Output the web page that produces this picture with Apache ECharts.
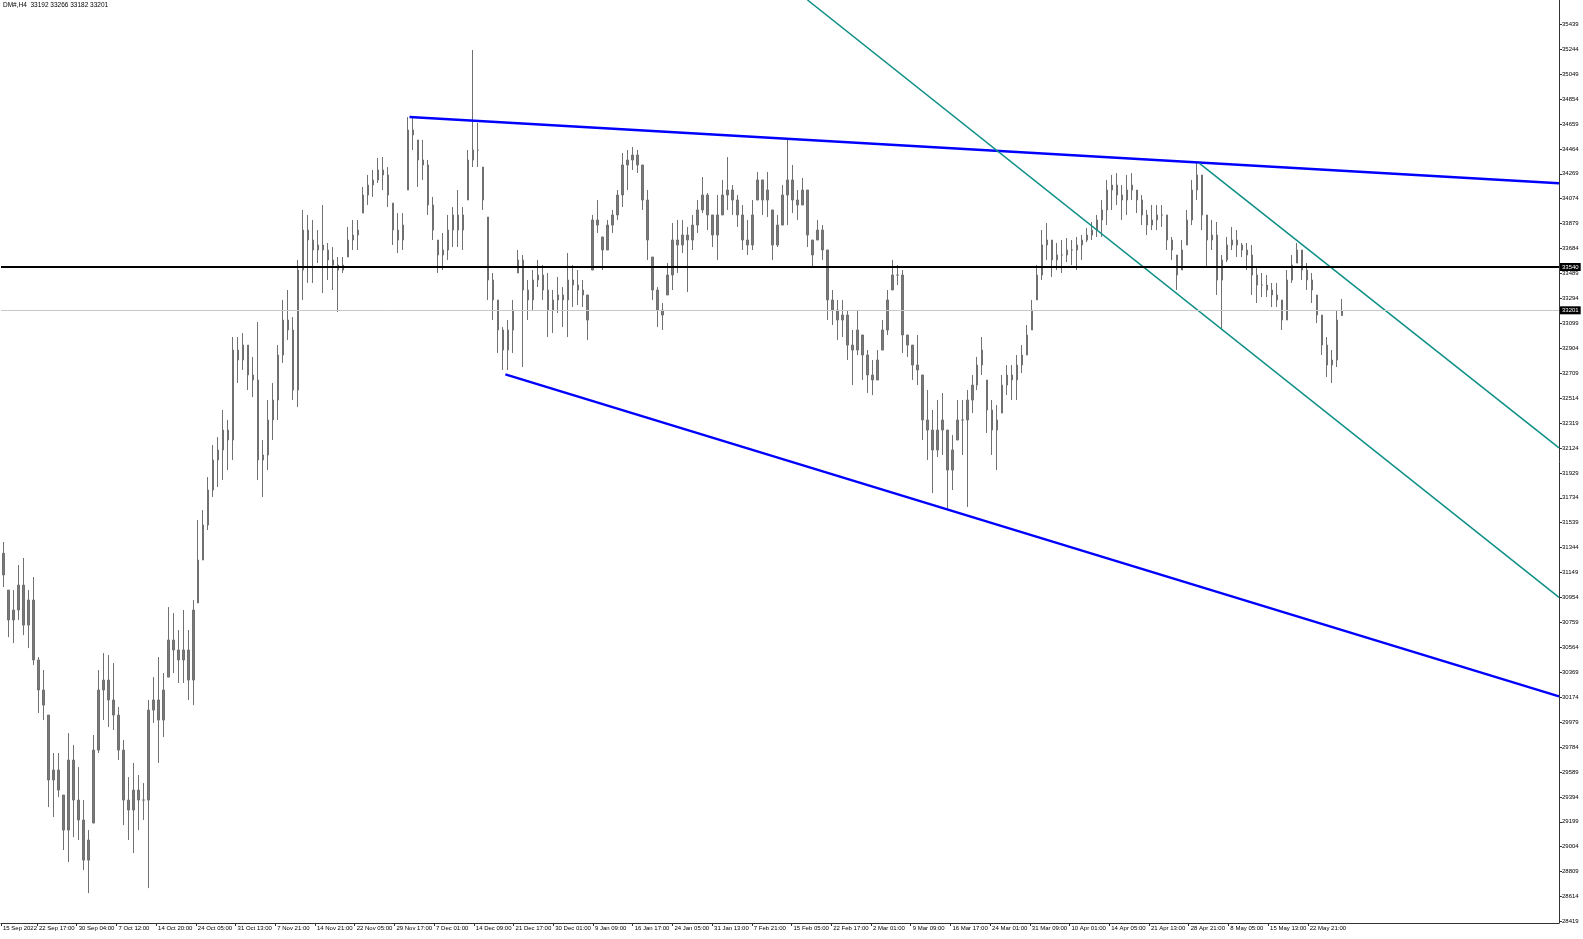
<!DOCTYPE html>
<html><head><meta charset="utf-8">
<script src="https://cdn.jsdelivr.net/npm/echarts@6/dist/echarts.min.js"></script>
<style>html,body{margin:0;padding:0;background:#fff}#c{width:1583px;height:939px}</style>
</head><body><div id="c"></div>
<script>
const titleText = 'DM#,H4  33192 33266 33182 33201';
const highs = [
31388,31012,31012,31208,31263,31012,31114,30488,30386,30034,
29737,29737,29408,29893,29799,29627,29369,29134,29878,30386,
30519,30504,30441,30097,29839,29549,29659,29565,29502,30152,
30331,30488,30363,30879,30832,30699,30856,30699,30934,31560,
31638,31896,32147,32209,32421,32343,32992,32992,33023,32929,
32836,33109,32186,32499,32632,32929,33282,33360,33148,33595,
33986,33947,33908,33829,34025,33728,33696,33618,33618,33853,
33908,33908,34166,34260,34299,34393,34400,34322,34040,33962,
33962,34713,34713,34534,34534,34377,34088,33751,33806,33947,
34009,34142,34009,34455,35238,34667,34322,33931,33493,33282,
33070,33125,33282,33673,33634,33438,33516,33595,33555,33493,
33360,33462,33383,33649,33555,33516,33438,33321,33947,34064,
33775,33908,33986,34142,34432,34455,34479,34455,34338,34142,
33618,33383,33258,33571,33884,33908,33908,33853,33947,34064,
34244,34119,33947,34103,34221,34400,34181,34103,34025,33908,
34064,34283,34221,34283,33986,33947,34181,34549,34338,34142,
34236,34142,33751,33908,33868,33673,33360,33282,33282,33203,
33047,33203,33008,32890,32812,32890,33125,33360,33595,33555,
33516,33008,32929,33008,32695,32577,32421,32499,32554,32264,
32225,32499,32499,32577,32695,32836,32992,32656,32499,32460,
32695,32773,32773,32851,32929,33086,33282,33555,33829,33884,
33751,33728,33751,33767,33751,33775,33790,33845,33892,33947,
34064,34221,34260,34275,34181,34260,34275,34142,34103,33986,
34025,34025,34025,33947,33775,33634,33751,33986,34221,34353,
34260,33947,33908,33892,33634,33775,33853,33829,33728,33728,
33712,33540,33493,33477,33415,33415,33282,33516,33634,33728,
33673,33571,33493,33321,33164,32992,32890,33203,33290];
const lows = [
31036,30644,30597,30778,30660,30558,30425,30050,29995,29314,
29236,29392,28978,28884,29079,29056,28821,28641,29189,29737,
29995,29940,29917,29682,29173,29056,28954,29134,29213,28680,
29972,29659,29862,30331,30363,30285,30285,30152,30112,30911,
31247,31482,31740,31818,31873,31951,32030,32632,32734,32577,
32522,31873,31740,31951,32186,32343,32789,32969,32499,32444,
33282,33415,33415,33571,33336,33438,33360,33188,33493,33618,
33673,33673,33962,34025,34088,34197,34142,34009,33712,33649,
33673,34142,34455,34166,34221,33947,33751,33493,33516,33595,
33696,33696,33673,34064,34322,34322,33986,33282,33125,32867,
32734,32734,32867,33493,32757,33125,33203,33383,33282,32992,
33023,33180,33070,32992,33227,33242,33227,32969,33516,33806,
33516,33673,33806,33908,34009,34142,34299,34275,33986,33595,
33282,33070,33047,33321,33360,33493,33649,33344,33673,33806,
33962,33829,33696,33595,33947,33986,33947,33853,33673,33634,
33673,34064,33947,33931,33595,33696,33868,33868,33962,33908,
34025,33696,33540,33751,33595,33125,33086,32969,32992,32812,
32616,32851,32656,32554,32538,32656,32890,33008,33360,33399,
32867,32836,32656,32616,32186,32030,31771,32053,32069,31638,
31795,32186,32069,31662,32397,32577,32695,32241,32069,31951,
32397,32538,32499,32499,32710,32851,33047,33282,33438,33595,
33462,33516,33493,33579,33555,33516,33595,33735,33751,33775,
33775,33868,33986,34025,33908,33947,34064,33962,33868,33790,
33829,33829,33853,33673,33595,33360,33516,33712,33868,34064,
33829,33540,33673,33321,33047,33579,33673,33618,33618,33516,
33321,33258,33305,33305,33227,33227,33047,33125,33415,33571,
33438,33360,33258,33101,32851,32679,32632,32757,33160];
const closes = [
31130,30778,30856,31051,30738,30934,30465,30230,30112,29526,
29604,29447,29134,29682,29369,29213,28899,29056,29760,30230,
30308,30152,30034,29760,29369,29291,29447,29369,29369,30073,
30152,29995,30230,30621,30543,30465,30543,30308,30856,31247,
31521,31795,32030,32108,32264,32186,32890,32812,32929,32695,
32656,32030,32069,32343,32499,32851,33125,33047,32577,33516,
33829,33751,33673,33712,33673,33595,33555,33516,33555,33751,
33790,33829,34103,34181,34221,34299,34260,34103,33829,33751,
33868,34612,34573,34377,34338,34025,33829,33634,33673,33829,
33947,33829,33947,34377,34455,34455,34064,33438,33282,33047,
32890,33047,33203,33595,33360,33282,33438,33477,33360,33203,
33282,33321,33282,33438,33399,33360,33321,33125,33908,33868,
33673,33868,33947,34103,34338,34377,34416,34338,34064,33751,
33360,33203,33164,33477,33751,33712,33790,33751,33868,33986,
34103,33947,33790,33947,34103,34142,34064,33947,33751,33712,
33947,34221,34064,34142,33712,33868,34103,34221,34064,34025,
34142,33790,33634,33829,33673,33282,33203,33125,33164,32929,
32890,33047,32851,32695,32656,32812,33047,33282,33477,33477,
33008,32929,32773,32734,32343,32264,32108,32264,32343,31951,
32108,32343,32343,32499,32616,32773,32890,32421,32264,32343,
32616,32695,32656,32773,32851,33008,33203,33477,33712,33751,
33595,33634,33634,33673,33673,33712,33751,33790,33829,33908,
33986,34142,34181,34103,34064,34142,34181,34064,33947,33868,
33908,33947,33947,33751,33673,33477,33673,33908,34142,34260,
33947,33751,33790,33438,33595,33712,33751,33712,33673,33634,
33477,33399,33399,33360,33321,33282,33125,33438,33555,33673,
33516,33438,33360,33164,32929,32773,32812,33125,33201];
const firstOpen = 31300;

const yTicks = [28419,28614,28809,29004,29199,29394,29589,29784,29979,30174,30369,30564,30759,30954,31149,31344,31539,31734,31929,32124,32319,32514,32709,32904,33099,33294,33489,33684,33879,34074,34269,34464,34659,34854,35049,35244,35439];
const xTickLabels = ["15 Sep 2022","22 Sep 17:00","30 Sep 04:00","7 Oct 12:00","14 Oct 20:00","24 Oct 05:00","31 Oct 13:00","7 Nov 21:00","14 Nov 21:00","22 Nov 05:00","29 Nov 17:00","7 Dec 01:00","14 Dec 09:00","21 Dec 17:00","30 Dec 01:00","9 Jan 09:00","16 Jan 17:00","24 Jan 05:00","31 Jan 13:00","7 Feb 21:00","15 Feb 05:00","22 Feb 17:00","2 Mar 01:00","9 Mar 09:00","16 Mar 17:00","24 Mar 01:00","31 Mar 09:00","10 Apr 01:00","14 Apr 05:00","21 Apr 13:00","28 Apr 21:00","8 May 05:00","15 May 13:00","22 May 21:00"];
const xTickIdx = [-0.5,6.70,14.66,22.61,30.56,38.52,46.47,54.42,62.37,70.33,78.28,86.23,94.19,102.14,110.09,118.04,126.0,133.95,141.90,149.86,157.81,165.76,173.71,181.67,189.62,197.57,205.53,213.48,221.43,229.38,237.34,245.29,253.24,261.19];

const upperBlue = [[81.3, 34713], [311.5, 34195]];
const lowerBlue = [[100.5, 32700], [311.5, 30180]];
const tealA = [[161.0, 35629], [311.5, 30955]];
const tealB = [[239.5, 34351], [311.5, 32124]];
const levelPrice = 33540;
const bidPrice = 33201;
const slotCount = 312;
const yMin = 28407, yMax = 35629;

const slots = Array.from({length: slotCount}, (_, i) => i);
const ohlc = closes.map((c, i) => {
  const prev = i === 0 ? firstOpen : closes[i - 1];
  const o = Math.min(Math.max(prev, lows[i]), highs[i]);
  return [o, c, lows[i], highs[i]];
});

const FONT = 'Liberation Sans';
const chart = echarts.init(document.getElementById('c'), null, {renderer: 'canvas'});
function tagLabel(v) {
  return {show: true, position: 'end', formatter: String(v), backgroundColor: '#000', color: '#fff',
    fontSize: 6, fontFamily: FONT, padding: [1, 2, 1, 2], distance: 1};
}
const option = {
  animation: false,
  backgroundColor: '#fff',
  graphic: [{type: 'text', left: 3, top: 2, style: {text: titleText, fontSize: 6.5, fontFamily: FONT, fill: '#000'}}],
  grid: {left: 0, right: 24, top: 0, bottom: 16, containLabel: false},
  xAxis: [
    {type: 'category', data: slots, show: false, boundaryGap: true},
    {type: 'value', min: -0.5, max: slotCount - 0.5, position: 'bottom',
     axisLine: {show: true, onZero: false, lineStyle: {color: '#333', width: 1}},
     splitLine: {show: false},
     axisTick: {show: true, customValues: xTickIdx, length: 3, lineStyle: {color: '#333'}},
     axisLabel: {show: true, customValues: xTickIdx, align: 'left', fontSize: 6, fontFamily: FONT, color: '#000', margin: 2, padding: [0, 0, 0, 2],
       formatter: function (v) {
         let b = 0, d = Infinity;
         xTickIdx.forEach((t, i) => { const dd = Math.abs(t - v); if (dd < d) { d = dd; b = i; } });
         return xTickLabels[b];
       }}}
  ],
  yAxis: {type: 'value', position: 'right', min: yMin, max: yMax, scale: true,
    axisLine: {show: true, onZero: false, lineStyle: {color: '#333', width: 1}},
    splitLine: {show: false},
    axisTick: {show: true, customValues: yTicks, length: 3, lineStyle: {color: '#333'}},
    axisLabel: {show: true, customValues: yTicks, fontSize: 6, fontFamily: FONT, color: '#000', margin: 3,
      formatter: function (v) { return String(Math.round(v)); }}},
  series: [
    {type: 'candlestick', xAxisIndex: 0, yAxisIndex: 0, data: ohlc, barWidth: 2,
     itemStyle: {color: '#7a7a7a', color0: '#7a7a7a', borderColor: '#707070', borderColor0: '#707070', borderWidth: 1}},
    {type: 'line', xAxisIndex: 1, data: [], symbol: 'none', silent: true,
     markLine: {symbol: ['none', 'none'], silent: true, animation: false,
       data: [
         {yAxis: bidPrice, lineStyle: {color: '#c8c8c8', width: 1, type: 'solid'}, label: tagLabel(bidPrice)},
         {yAxis: levelPrice, lineStyle: {color: '#000', width: 2, type: 'solid'}, label: tagLabel(levelPrice)}
       ]}},
    {type: 'line', xAxisIndex: 1, data: upperBlue, symbol: 'none', lineStyle: {color: '#0000ff', width: 2.5}},
    {type: 'line', xAxisIndex: 1, data: lowerBlue, symbol: 'none', lineStyle: {color: '#0000ff', width: 2.5}},
    {type: 'line', xAxisIndex: 1, data: tealA, symbol: 'none', lineStyle: {color: '#0d8f86', width: 1.5}},
    {type: 'line', xAxisIndex: 1, data: tealB, symbol: 'none', lineStyle: {color: '#0d8f86', width: 1.5}}
  ]
};
chart.setOption(option);
</script></body></html>
